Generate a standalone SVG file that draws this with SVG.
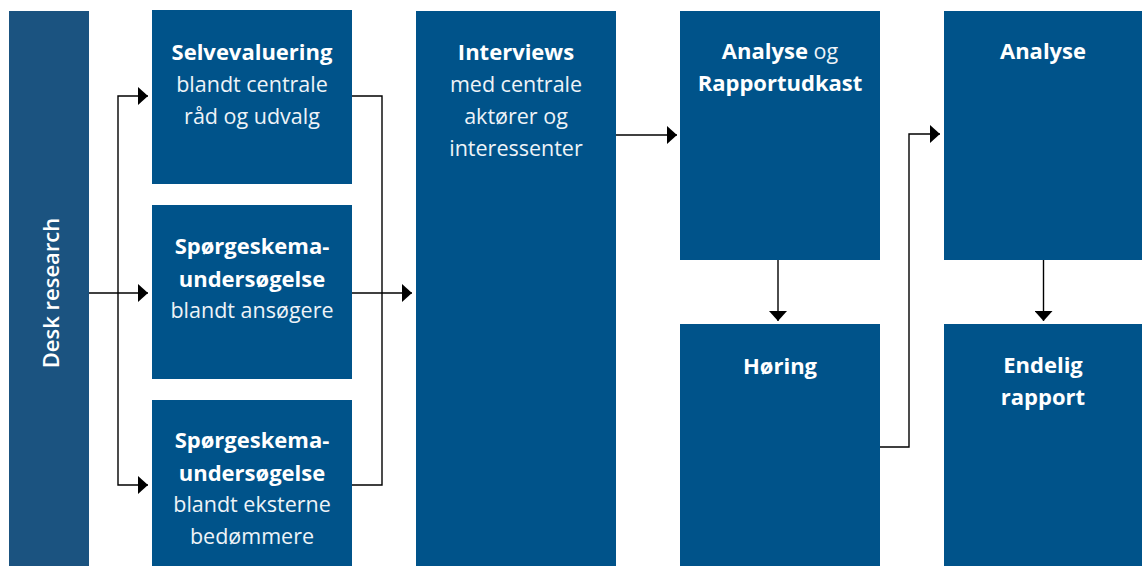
<svg xmlns="http://www.w3.org/2000/svg" width="1142" height="566" viewBox="0 0 1142 566">
<style>
.box{fill:#00538a}
.desk{fill:#1b5380}
text{font-family:"Open Sans","Liberation Sans",sans-serif;font-size:21px;fill:#ffffff;text-anchor:middle}
.b{font-weight:700;font-size:22px}
.r{font-weight:400;font-size:21.5px;fill:#eef3f8}
.conn path{fill:none;stroke:#000;stroke-width:1.4}
</style>
<defs>
<marker id="ah" viewBox="0 0 10 18" refX="10" refY="9" markerWidth="10" markerHeight="18" markerUnits="userSpaceOnUse" orient="auto">
<path d="M0,0 L10,9 L0,18 Z" fill="#000"/>
</marker>
</defs>
<rect width="1142" height="566" fill="#fff"/>
<g id="desk">
<rect class="desk" x="9" y="11" width="80" height="555"/>
<text style="font-weight:600;font-size:22px" transform="translate(59,293) rotate(-90)">Desk research</text>
</g>
<g id="selvevaluering">
<rect class="box" x="152" y="10" width="200" height="174"/>
<text class="b" x="252" y="60">Selvevaluering</text>
<text class="r" x="252" y="92">blandt centrale</text>
<text class="r" x="252" y="124">råd og udvalg</text>
</g>
<g id="sporgeskema1">
<rect class="box" x="152" y="205" width="200" height="174"/>
<text class="b" x="252" y="254">Spørgeskema-</text>
<text class="b" x="252" y="287">undersøgelse</text>
<text class="r" x="252" y="318">blandt ansøgere</text>
</g>
<g id="sporgeskema2">
<rect class="box" x="152" y="400" width="200" height="166"/>
<text class="b" x="252" y="448">Spørgeskema-</text>
<text class="b" x="252" y="481">undersøgelse</text>
<text class="r" x="252" y="512">blandt eksterne</text>
<text class="r" x="252" y="544">bedømmere</text>
</g>
<g id="interviews">
<rect class="box" x="416" y="11" width="200" height="555"/>
<text class="b" x="516" y="60">Interviews</text>
<text class="r" x="516" y="92">med centrale</text>
<text class="r" x="516" y="124">aktører og</text>
<text class="r" x="516" y="156">interessenter</text>
</g>
<g id="analyse-rapportudkast">
<rect class="box" x="680" y="11" width="200" height="249"/>
<text x="780" y="59"><tspan class="b">Analyse</tspan><tspan class="r"> og</tspan></text>
<text class="b" x="780" y="91">Rapportudkast</text>
</g>
<g id="horing">
<rect class="box" x="680" y="324" width="200" height="242"/>
<text class="b" x="780" y="374">Høring</text>
</g>
<g id="analyse">
<rect class="box" x="944" y="11" width="198" height="249"/>
<text class="b" x="1043" y="59">Analyse</text>
</g>
<g id="endelig-rapport">
<rect class="box" x="944" y="324" width="198" height="242"/>
<text class="b" x="1043" y="373">Endelig</text>
<text class="b" x="1043" y="405">rapport</text>
</g>
<g id="connectors" class="conn">
<path d="M89,293 H148" marker-end="url(#ah)"/>
<path d="M118,293 V96 H148" marker-end="url(#ah)"/>
<path d="M118,293 V485 H148" marker-end="url(#ah)"/>
<path d="M352,96 H382 V293"/>
<path d="M352,485 H382 V293"/>
<path d="M352,293 H412" marker-end="url(#ah)"/>
<path d="M616,135 H677" marker-end="url(#ah)"/>
<path d="M778,260 V321" marker-end="url(#ah)"/>
<path d="M880,447 H909 V134 H940" marker-end="url(#ah)"/>
<path d="M1043.5,260 V321" marker-end="url(#ah)"/>
</g>
</svg>
